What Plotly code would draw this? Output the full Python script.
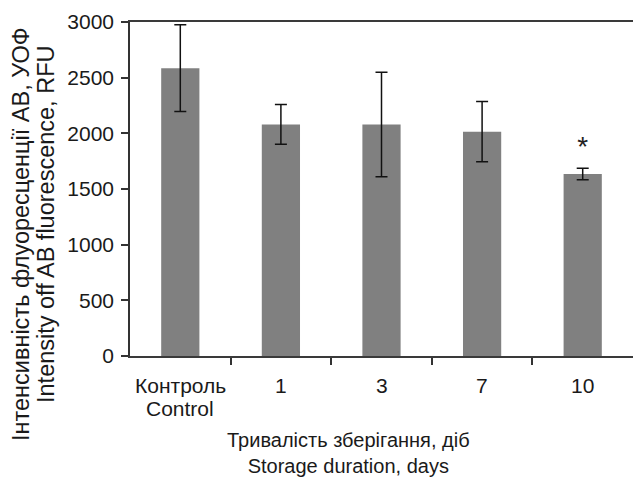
import plotly.graph_objects as go

categories = ["Контроль", "1", "3", "7", "10"]
categories_line2 = ["Control", "", "", "", ""]
values = [2585, 2080, 2080, 2015, 1635]
errors = [390, 178, 469, 270, 52]
marks = ["", "", "", "", "*"]
y_ticks = [0, 500, 1000, 1500, 2000, 2500, 3000]

FONT = "Liberation Sans, Arial, sans-serif"
TXT = "#1a1a1a"

W, H = 633, 477
ML, MR, MT, MB = 130, 0, 22, 121

fig = go.Figure()
fig.add_trace(go.Bar(
    x=list(range(len(categories))), y=values,
    width=0.38,
    marker=dict(color="#808080", line=dict(width=0)),
    error_y=dict(type="data", array=errors, visible=True,
                 color="#111111", thickness=1.5, width=6),
    showlegend=False, hoverinfo="skip",
))
# significance marks
fig.add_trace(go.Scatter(
    x=[i for i, m in enumerate(marks) if m],
    y=[values[i] + errors[i] + 170 for i, m in enumerate(marks) if m],
    mode="text", text=[m for m in marks if m],
    textfont=dict(family="Liberation Sans Bold, Arial Black, sans-serif", size=28, color="#222222"),
    showlegend=False, hoverinfo="skip",
))

fig.update_layout(
    width=W, height=H,
    margin=dict(l=ML, r=MR, t=MT, b=MB),
    paper_bgcolor="white", plot_bgcolor="white",
    font=dict(family=FONT, size=22, color=TXT),
)
fig.update_xaxes(
    range=[-0.5, 4.5],
    tickmode="array", tickvals=[0.5, 1.5, 2.5, 3.5],
    ticktext=["", "", "", ""],
    ticks="outside", ticklen=7, tickwidth=1.5, tickcolor="#333333",
    showline=True, linecolor="#3a3a3a", linewidth=2, mirror=True,
    showgrid=False, zeroline=False,
)
fig.update_yaxes(
    range=[0, 3000],
    tickmode="array", tickvals=y_ticks,
    ticks="outside", ticklen=7, tickwidth=1.5, tickcolor="#333333",
    showline=True, linecolor="#333333", linewidth=1.5,
    showgrid=False, zeroline=False,
    tickfont=dict(size=21, color=TXT),
    ticklabelstandoff=3,
)

pw, ph = W - ML - MR, H - MT - MB


def px_ann(px, py, text, size, angle=0):
    fig.add_annotation(
        x=(px - ML) / pw, y=(H - MB - py) / ph, xref="paper", yref="paper",
        text=text, showarrow=False, textangle=angle,
        xanchor="center", yanchor="middle",
        font=dict(family=FONT, size=size, color=TXT),
    )

# category labels (line 1 and line 2)
for i, (c1, c2) in enumerate(zip(categories, categories_line2)):
    fig.add_annotation(x=i, y=0, xref="x", yref="y", yshift=-(385 - 356),
                       text=c1, showarrow=False, yanchor="middle",
                       font=dict(family=FONT, size=21, color=TXT))
    if c2:
        fig.add_annotation(x=i, y=0, xref="x", yref="y", yshift=-(408 - 356),
                           text=c2, showarrow=False, yanchor="middle",
                           font=dict(family=FONT, size=21, color=TXT))

# axis titles
px_ann(21, 234, "Інтенсивність флуоресценції АВ, УОФ", 23.5, -90)
px_ann(46, 225, "Intensity off AB fluorescence, RFU", 23.5, -90)
px_ann(348, 453, "Тривалість зберігання, діб<br>Storage duration, days", 20)

fig.write_html("out.html", config={"displayModeBar": False},
               post_script="document.body.style.margin='0px';document.body.style.overflow='hidden';")
